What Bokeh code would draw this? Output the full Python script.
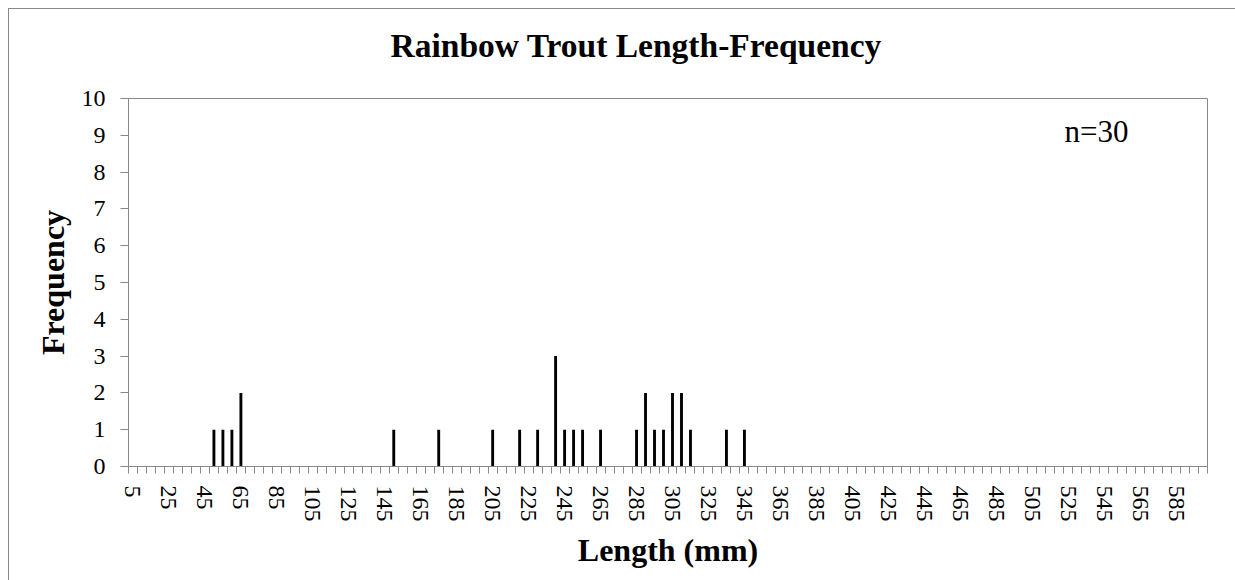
from bokeh.plotting import figure
from bokeh.models import Range1d, FixedTicker, Label, Title
from bokeh.embed import file_html
from bokeh.resources import INLINE

# Length classes (mm) shown on the category axis
lengths = list(range(5, 605, 5))
bar_lengths = [50, 55, 60, 65, 150, 175, 205, 220, 230, 240, 245, 250, 255, 265,
               285, 290, 295, 300, 305, 310, 315, 335, 345]
bar_counts = [1, 1, 1, 2, 1, 1, 1, 1, 1, 3, 1, 1, 1, 1,
              1, 2, 1, 1, 2, 2, 1, 1, 1]
x_tick_labels = list(range(5, 600, 20))
y_ticks = list(range(0, 11))

bin_w = 5
boundaries = [l - bin_w / 2 for l in lengths] + [lengths[-1] + bin_w / 2]

FONT = "Liberation Serif"
GRAY = "#898989"

p = figure(width=1227, height=572, output_backend="svg", toolbar_location=None,
           x_range=Range1d(boundaries[0], boundaries[-1]), y_range=Range1d(0, 10),
           min_border_left=119, min_border_right=29, min_border_top=89,
           min_border_bottom=115)
p.styles = {"margin-left": "8px", "margin-top": "8px",
            "border-left": "1px solid #898989", "border-top": "1px solid #898989"}

p.vbar(x=bar_lengths, top=bar_counts, width=1.6, bottom=0,
       fill_color="black", line_color=None)

p.grid.visible = False
p.outline_line_color = GRAY
p.outline_line_width = 1

# x axis
xa = p.xaxis[0]
xa.ticker = FixedTicker(ticks=x_tick_labels, minor_ticks=boundaries)
xa.major_tick_out = 0
xa.major_tick_in = 0
xa.minor_tick_out = 7
xa.minor_tick_in = 0
xa.minor_tick_line_color = GRAY
xa.axis_line_color = GRAY
xa.major_label_orientation = "vertical"
xa.major_label_text_font = FONT
xa.major_label_text_font_size = "24px"
xa.major_label_text_color = "black"
xa.major_label_standoff = 12
xa.axis_label = "Length (mm)"
xa.axis_label_text_font = FONT
xa.axis_label_text_font_style = "bold"
xa.axis_label_text_font_size = "32px"
xa.axis_label_text_color = "black"
xa.axis_label_standoff = 7

# y axis
ya = p.yaxis[0]
ya.ticker = FixedTicker(ticks=y_ticks)
ya.major_tick_out = 8
ya.major_tick_in = 0
ya.minor_tick_out = 0
ya.minor_tick_in = 0
ya.major_tick_line_color = GRAY
ya.axis_line_color = GRAY
ya.major_label_text_font = FONT
ya.major_label_text_font_size = "24px"
ya.major_label_text_color = "black"
ya.major_label_standoff = 15
ya.axis_label = "Frequency"
ya.axis_label_text_font = FONT
ya.axis_label_text_font_style = "bold"
ya.axis_label_text_font_size = "32px"
ya.axis_label_text_color = "black"
ya.axis_label_standoff = 8

# spacer between the frame and the title (first "above" item sits nearest the frame)
spacer = Title(text=" ", text_font_size="1px", standoff=32)
p.add_layout(spacer, "above")
t = Title(text="Rainbow Trout Length-Frequency", align="left", offset=262,
          text_font=FONT, text_font_style="bold", text_font_size="33.5px",
          text_color="black", standoff=0)
p.add_layout(t, "above")

n_label = Label(x=523, y=9.1, text="n=30", text_font=FONT, text_font_size="31px",
                text_color="black", text_baseline="alphabetic")
p.add_layout(n_label)

open("out.html", "w").write(file_html(p, INLINE))
